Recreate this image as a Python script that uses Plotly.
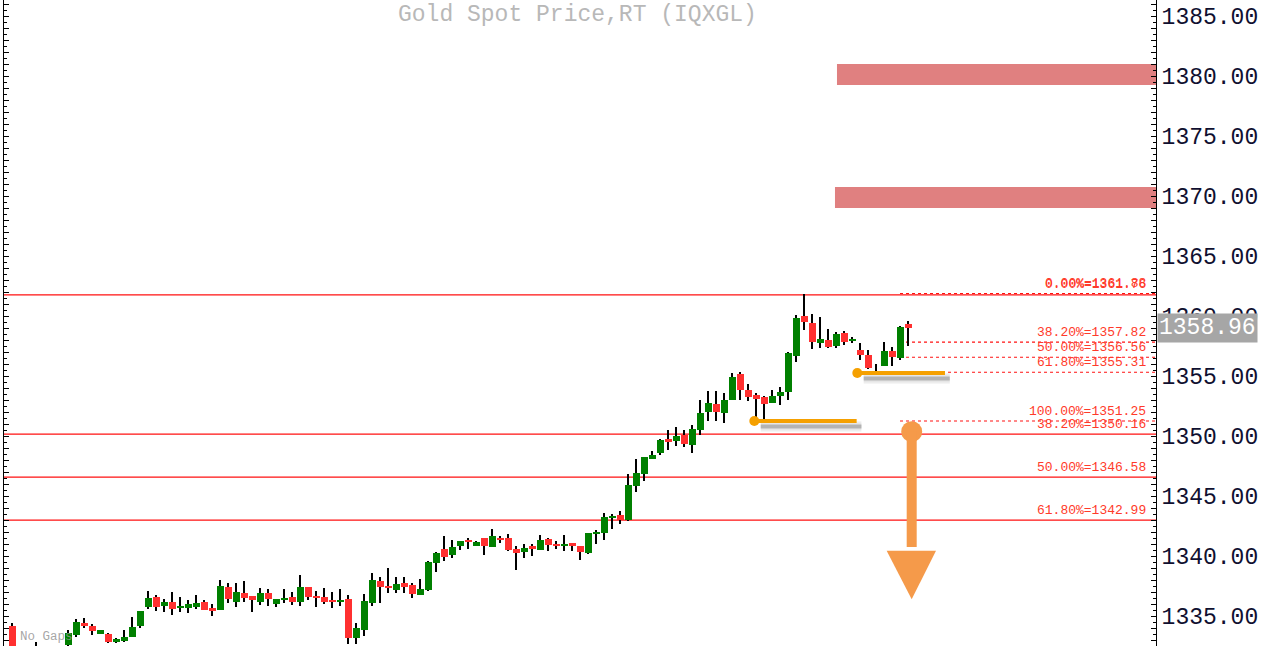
import plotly.graph_objects as go

# ---------------- data ----------------
opens = [1334.17, 1332.20, 1331.80, 1332.10, 1331.90, 1332.00, 1331.90, 1332.60, 1333.42, 1334.42,
         1334.17, 1333.53, 1333.50, 1332.86, 1332.94, 1333.28, 1334.19, 1335.78, 1336.58, 1335.86,
         1336.17, 1335.69, 1335.69, 1335.78, 1336.17, 1335.69, 1335.53, 1337.42, 1336.19, 1336.92,
         1336.67, 1336.19, 1336.92, 1336.03, 1336.36, 1336.58, 1336.19, 1337.42, 1336.61, 1336.58,
         1336.33, 1336.19, 1336.42, 1333.19, 1333.86, 1336.10, 1337.92, 1337.50, 1337.17, 1337.75,
         1337.58, 1336.78, 1337.17, 1339.44, 1340.58, 1340.11, 1340.86, 1341.25, 1340.86, 1341.50,
         1340.78, 1341.50, 1341.50, 1340.58, 1340.36, 1340.83, 1340.53, 1341.42, 1340.94, 1340.86,
         1341.08, 1340.83, 1340.28, 1341.86, 1341.94, 1343.17, 1343.42, 1343.00, 1345.83, 1346.83,
         1348.08, 1348.58, 1349.75, 1349.58, 1350.08, 1349.25, 1350.50, 1352.03, 1352.69, 1351.94,
         1353.03, 1355.17, 1353.86, 1353.42, 1353.25, 1352.78, 1353.33, 1353.69, 1356.69, 1360.03,
         1359.42, 1357.78, 1358.00, 1357.53, 1358.58, 1357.94, 1357.17, 1356.75, 1355.17, 1355.86,
         1357.08, 1356.53, 1359.33]
highs = [1334.42, 1332.40, 1332.30, 1332.86, 1332.20, 1332.40, 1332.50, 1333.83, 1334.75, 1334.81,
         1334.31, 1333.83, 1333.61, 1333.17, 1333.83, 1334.94, 1335.42, 1337.08, 1336.78, 1336.44,
         1337.00, 1336.58, 1336.33, 1336.75, 1336.33, 1336.00, 1338.00, 1337.75, 1337.75, 1337.92,
         1336.67, 1337.33, 1337.25, 1336.42, 1337.25, 1337.00, 1338.42, 1337.42, 1337.08, 1337.33,
         1337.00, 1337.25, 1336.75, 1334.42, 1336.83, 1338.61, 1338.28, 1338.97, 1338.28, 1338.28,
         1337.78, 1338.06, 1339.61, 1340.33, 1341.69, 1341.36, 1341.25, 1341.47, 1341.28, 1341.50,
         1342.25, 1341.69, 1341.83, 1340.83, 1341.00, 1341.00, 1341.75, 1341.50, 1341.28, 1341.75,
         1341.08, 1340.83, 1341.92, 1342.17, 1343.61, 1343.47, 1343.75, 1346.83, 1348.08, 1348.25,
         1348.78, 1349.75, 1350.50, 1350.75, 1350.50, 1350.92, 1353.00, 1353.75, 1353.75, 1353.61,
         1355.28, 1355.36, 1354.33, 1353.61, 1353.33, 1353.86, 1354.11, 1357.00, 1360.08, 1361.80,
         1360.17, 1359.94, 1358.89, 1358.67, 1358.75, 1358.25, 1357.75, 1357.17, 1356.03, 1357.86,
         1357.42, 1359.17, 1359.58]
lows = [1331.90, 1331.50, 1331.40, 1331.70, 1331.40, 1331.60, 1331.70, 1332.10, 1333.28, 1333.98,
        1333.39, 1333.53, 1332.75, 1332.72, 1332.81, 1333.23, 1333.98, 1335.61, 1335.44, 1335.36,
        1335.11, 1335.36, 1335.28, 1335.61, 1335.53, 1335.03, 1335.47, 1336.11, 1335.78, 1336.19,
        1335.36, 1335.94, 1335.86, 1335.78, 1336.11, 1335.94, 1335.86, 1336.36, 1335.78, 1336.03,
        1335.69, 1335.86, 1332.69, 1332.69, 1333.36, 1335.83, 1336.06, 1336.89, 1336.94, 1336.94,
        1336.53, 1336.78, 1337.08, 1338.69, 1339.61, 1339.86, 1340.50, 1340.61, 1340.86, 1340.11,
        1340.78, 1341.11, 1340.44, 1338.86, 1339.86, 1340.03, 1340.53, 1340.44, 1340.61, 1340.44,
        1340.44, 1339.69, 1340.19, 1341.00, 1341.33, 1342.25, 1342.67, 1342.94, 1345.36, 1346.28,
        1348.08, 1348.39, 1348.83, 1349.17, 1349.08, 1348.58, 1350.08, 1351.25, 1351.25, 1351.11,
        1353.03, 1353.03, 1352.94, 1351.19, 1351.11, 1352.78, 1352.58, 1353.00, 1356.19, 1358.83,
        1357.27, 1357.36, 1357.36, 1357.36, 1357.61, 1357.78, 1356.31, 1355.61, 1355.06, 1355.86,
        1355.86, 1356.31, 1357.47]
closes = [1332.30, 1331.80, 1332.10, 1331.90, 1332.00, 1331.90, 1332.30, 1333.58, 1334.50, 1334.19,
          1333.78, 1333.83, 1332.81, 1333.08, 1333.28, 1334.11, 1335.42, 1336.50, 1335.78, 1336.17,
          1335.61, 1335.83, 1336.00, 1336.08, 1335.53, 1335.44, 1337.50, 1336.44, 1337.00, 1336.53,
          1336.36, 1336.92, 1336.44, 1336.42, 1336.50, 1336.19, 1337.42, 1336.61, 1336.53, 1336.19,
          1336.19, 1336.33, 1333.19, 1334.00, 1336.25, 1338.00, 1337.44, 1337.36, 1337.67, 1337.44,
          1336.86, 1337.25, 1339.53, 1340.28, 1339.94, 1340.75, 1341.25, 1341.17, 1341.17, 1340.86,
          1341.69, 1341.36, 1340.53, 1340.28, 1340.67, 1340.61, 1341.33, 1340.94, 1340.86, 1341.00,
          1340.86, 1340.33, 1341.92, 1342.00, 1343.25, 1343.33, 1343.03, 1345.92, 1346.92, 1348.25,
          1348.42, 1349.67, 1349.50, 1350.00, 1349.33, 1350.58, 1351.92, 1352.78, 1352.03, 1353.03,
          1354.92, 1353.86, 1353.25, 1353.11, 1352.69, 1353.33, 1353.67, 1356.92, 1359.83, 1359.53,
          1357.86, 1358.08, 1357.44, 1358.50, 1357.86, 1358.08, 1356.78, 1355.69, 1355.36, 1357.08,
          1356.61, 1359.11, 1358.96]

last_price = 1358.96

# Fibonacci retracement sets
fib1_pcts = ["0.00%", "38.20%", "50.00%", "61.80%"]
fib1_prices = [1361.76, 1350.16, 1346.58, 1342.99]
fib2_pcts = ["0.00%", "38.20%", "50.00%", "61.80%", "100.00%"]
fib2_prices = [1361.88, 1357.82, 1356.56, 1355.31, 1351.25]
fib2_start = 110.94          # bar index where the dotted set begins

# resistance zones (low, high, starting bar index)
zone_lows = [1379.25, 1369.00]
zone_highs = [1381.00, 1370.75]
zone_starts = [103.06, 102.81]

# support lines (price, start index, end index)
support_prices = [1351.25, 1355.25]
support_starts = [92.73, 105.60]
support_ends = [105.52, 116.56]

# downward projection arrow
arrow_x = [109.27, 112.40, 115.44]
arrow_from = 1350.36
arrow_shaft_end = 1340.75
arrow_head_base = 1340.44
arrow_tip = 1336.39

y_ticks = list(range(1333, 1387))
y_minor = [v + 0.5 for v in range(1332, 1386)]

# ---------------- figure ----------------
n = len(opens)
idx = list(range(n))
GREEN = "#008000"
RED = "#ff3030"
colors = [GREEN if c >= o else RED for o, c in zip(opens, closes)]
body_base = [min(o, c) for o, c in zip(opens, closes)]
body_h = [max(abs(c - o), 0.13) for o, c in zip(opens, closes)]
wick_h = [h - l for h, l in zip(highs, lows)]

XMIN = -1.0625
XMAX = XMIN + 144
YMIN = 1332.5
YMAX = 1386.3333

fig = go.Figure()
fig.add_trace(go.Bar(x=idx, y=wick_h, base=lows, width=0.13,
                     marker=dict(color="black", line=dict(width=0)), hoverinfo="skip"))
fig.add_trace(go.Bar(x=idx, y=body_h, base=body_base, width=0.82,
                     marker=dict(color=colors, line=dict(width=0))))

FIB_RED = "#ff1010"
shapes = []
# Fibonacci set 1 (solid, full width)
for p in fib1_prices:
    shapes.append(dict(type="line", xref="paper", x0=0, x1=1, yref="y", y0=p, y1=p,
                       line=dict(color=FIB_RED, width=1.2), layer="below"))
# Fibonacci set 2 (dotted)
for p in fib2_prices:
    shapes.append(dict(type="line", xref="x", x0=fib2_start, x1=XMAX, yref="y", y0=p, y1=p,
                       line=dict(color=FIB_RED, width=1.1, dash="dot"), layer="below"))
# resistance zones
for lo, hi, xs in zip(zone_lows, zone_highs, zone_starts):
    shapes.append(dict(type="rect", xref="x", x0=xs, x1=XMAX, yref="y", y0=lo, y1=hi,
                       fillcolor="#e08080", line=dict(width=0), layer="below"))
# support lines with soft shadow
for p, xs, xe in zip(support_prices, support_starts, support_ends):
    for w, a in [(11, 0.05), (8, 0.08), (5, 0.14), (3, 0.18)]:
        shapes.append(dict(type="line", xref="x", x0=xs + 0.8, x1=xe + 0.6, yref="y",
                           y0=p - 0.45, y1=p - 0.45,
                           line=dict(color=f"rgba(60,60,60,{a})", width=w)))
    shapes.append(dict(type="line", xref="x", x0=xs, x1=xe, yref="y", y0=p, y1=p,
                       line=dict(color="#f5a000", width=4)))
# arrow shaft
shapes.append(dict(type="line", xref="x", x0=arrow_x[1], x1=arrow_x[1], yref="y",
                   y0=arrow_from, y1=arrow_shaft_end, line=dict(color="#f59a4a", width=10)))
fig.update_layout(shapes=shapes)

# circles at support line starts
fig.add_trace(go.Scatter(x=support_starts, y=support_prices, mode="markers",
                         marker=dict(color="#f5a000", size=10, line=dict(width=0)),
                         hoverinfo="skip"))
# arrow circle and head
fig.add_trace(go.Scatter(x=[arrow_x[1]], y=[arrow_from], mode="markers",
                         marker=dict(color="#f59a4a", size=21, line=dict(width=0)),
                         hoverinfo="skip"))
fig.add_trace(go.Scatter(x=[arrow_x[0], arrow_x[2], arrow_x[1], arrow_x[0]],
                         y=[arrow_head_base, arrow_head_base, arrow_tip, arrow_head_base],
                         mode="lines", fill="toself", fillcolor="#f59a4a",
                         line=dict(width=0, color="#f59a4a"), hoverinfo="skip"))

annotations = []
LABEL_FONT = dict(family="Liberation Mono", size=13, color="#ff3a2a")
for pct, p in zip(fib1_pcts, fib1_prices):
    annotations.append(dict(xref="paper", x=0.992, xanchor="right", yref="y", y=p,
                            yanchor="middle", yshift=10, text=f"{pct}={p:.2f}",
                            showarrow=False, font=LABEL_FONT, borderpad=0))
for pct, p in zip(fib2_pcts, fib2_prices):
    annotations.append(dict(xref="paper", x=0.992, xanchor="right", yref="y", y=p,
                            yanchor="middle", yshift=10, text=f"{pct}={p:.2f}",
                            showarrow=False, font=LABEL_FONT, borderpad=0))
# last price tag
annotations.append(dict(xref="paper", x=1, xanchor="left", xshift=1, yref="y", y=last_price,
                        yanchor="middle", text=f"{last_price:.2f}", showarrow=False,
                        bgcolor="#a6a6a6", borderpad=1,
                        font=dict(family="Liberation Mono", size=23, color="white")))
# title
annotations.append(dict(xref="paper", x=0.4974, xanchor="center", yref="paper", y=1,
                        yanchor="top", yshift=0, text="Gold Spot Price,RT (IQXGL)",
                        showarrow=False,
                        font=dict(family="Liberation Mono", size=23, color="#b8b8b8")))
# no gaps note
annotations.append(dict(xref="paper", x=0.0122, xanchor="left", yref="paper", y=0,
                        yanchor="bottom", yshift=0, text="No Gaps", showarrow=False,
                        font=dict(family="Liberation Mono", size=12.5,
                                  color="rgba(150,150,150,0.85)")))

fig.update_layout(
    width=1272, height=646,
    margin=dict(l=4, r=116, t=0, b=0),
    paper_bgcolor="white", plot_bgcolor="white",
    barmode="overlay", bargap=0, showlegend=False,
    annotations=annotations,
    xaxis=dict(range=[XMIN, XMAX], visible=False, fixedrange=True),
    yaxis=dict(side="right", range=[YMIN, YMAX], tickmode="array", tickvals=y_ticks,
               ticktext=[f"{v:.2f}" if v % 5 == 0 else "" for v in y_ticks],
               ticks="inside", ticklen=5, tickcolor="black", tickwidth=1,
               showline=True, linecolor="black", linewidth=1, mirror="ticks",
               showgrid=False, zeroline=False, fixedrange=True, ticklabelstandoff=0,
               tickfont=dict(family="Liberation Mono", size=23, color="#101030"),
               minor=dict(tickmode="array", tickvals=y_minor, ticks="inside", ticklen=3,
                          tickcolor="black", showgrid=False)),
)

fig.write_html("out.html", config={"displayModeBar": False},
               post_script="document.body.style.margin='0';")
